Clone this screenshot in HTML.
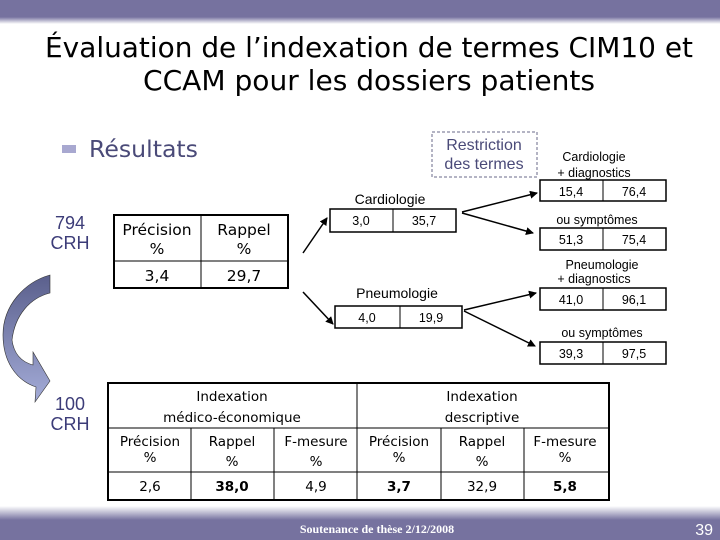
<!DOCTYPE html>
<html><head><meta charset="utf-8"><style>
body{margin:0;width:720px;height:540px;overflow:hidden;background:#fff}
svg{display:block}
.t{font-family:"DejaVu Sans","Liberation Sans",sans-serif}
.a{font-family:"Liberation Sans",sans-serif}
</style></head><body>
<svg width="720" height="540" viewBox="0 0 720 540">
<defs>
<linearGradient id="gt" x1="0" y1="0" x2="0" y2="1"><stop offset="0" stop-color="#76729f"/><stop offset="1" stop-color="#fff"/></linearGradient>
<linearGradient id="gb" x1="0" y1="0" x2="0" y2="1"><stop offset="0" stop-color="#fff"/><stop offset="1" stop-color="#76729f"/></linearGradient>
<linearGradient id="ga" x1="0" y1="0" x2="0" y2="1"><stop offset="0" stop-color="#5a5f8c"/><stop offset="1" stop-color="#a4acd8"/></linearGradient>
<marker id="ar" markerWidth="8" markerHeight="8" refX="7" refY="4" orient="auto" markerUnits="userSpaceOnUse"><path d="M0,0 L8,4 L0,8 z" fill="#000"/></marker>
</defs>
<rect x="0" y="0" width="720" height="17" fill="#76729f"/>
<rect x="0" y="17" width="720" height="7" fill="url(#gt)"/>
<rect x="0" y="506" width="720" height="14" fill="url(#gb)"/>
<rect x="0" y="520" width="720" height="20" fill="#76729f"/>
<g class="t" font-size="27.5" text-anchor="middle" fill="#000">
<text x="369" y="57" textLength="648" lengthAdjust="spacingAndGlyphs">Évaluation de l’indexation de termes CIM10 et</text>
<text x="369" y="90" textLength="452" lengthAdjust="spacingAndGlyphs">CCAM pour les dossiers patients</text></g>
<rect x="62" y="145" width="14" height="8" fill="#a8a8d0"/>
<text class="t" x="89" y="157" font-size="23" fill="#4a4a78" textLength="109" lengthAdjust="spacingAndGlyphs">Résultats</text>
<rect x="432" y="132" width="105" height="45" fill="none" stroke="#6a6a88" stroke-dasharray="3,2"/>
<g class="a" font-size="16" fill="#4a4a78" text-anchor="middle"><text x="484" y="150">Restriction</text><text x="484" y="169">des termes</text></g>
<g class="a" font-size="18" fill="#3c3c78" text-anchor="middle">
<text x="70" y="229">794</text><text x="70" y="249">CRH</text>
<text x="70" y="410">100</text><text x="70" y="430">CRH</text></g>
<path d="M50,275 L50,293 C30,298 15,315 12,340 C14,355 22,362 33,365 L33,352 L50,381 L35,402 L36,387 C15,380 3,360 3,335 C3,305 25,282 50,275 z" fill="url(#ga)" stroke="#333" stroke-width="0.6"/>
<g stroke="#000" stroke-width="2" fill="none">
<rect x="114" y="215" width="174" height="73"/><line x1="201" y1="215" x2="201" y2="288" stroke-width="1"/><line x1="114" y1="261" x2="288" y2="261" stroke-width="1"/></g>
<g class="t" font-size="15.5" text-anchor="middle"><text x="157" y="235">Précision</text><text x="157" y="254">%</text><text x="244" y="235">Rappel</text><text x="244" y="254">%</text><text x="157" y="281">3,4</text><text x="244" y="281">29,7</text></g>
<g stroke="#000" stroke-width="1.5" marker-end="url(#ar)">
<line x1="303" y1="253" x2="327" y2="218"/><line x1="303" y1="292" x2="333" y2="324"/>
<line x1="462" y1="212" x2="537" y2="193"/><line x1="462" y1="213" x2="533" y2="233"/>
<line x1="464" y1="310" x2="536" y2="293"/><line x1="464" y1="311" x2="535" y2="346"/></g>
<g class="a" font-size="14" text-anchor="middle">
<text x="390" y="204">Cardiologie</text><text x="397" y="298">Pneumologie</text></g>
<g class="a" font-size="12.5" text-anchor="middle">
<text x="594" y="161">Cardiologie</text><text x="594" y="177">+ diagnostics</text>
<text x="597" y="224">ou symptômes</text>
<text x="602" y="269">Pneumologie</text><text x="594" y="283">+ diagnostics</text>
<text x="602" y="337">ou symptômes</text></g>
<g stroke="#000" stroke-width="1.5" fill="none">
<rect x="330" y="209" width="126" height="23"/><line x1="393" y1="209" x2="393" y2="232" stroke-width="1"/>
<rect x="335" y="306" width="127" height="22"/><line x1="400" y1="306" x2="400" y2="328" stroke-width="1"/>
<rect x="540" y="180" width="126" height="21"/><line x1="603" y1="180" x2="603" y2="201" stroke-width="1"/>
<rect x="540" y="228" width="126" height="22"/><line x1="603" y1="228" x2="603" y2="250" stroke-width="1"/>
<rect x="540" y="288" width="126" height="22"/><line x1="603" y1="288" x2="603" y2="310" stroke-width="1"/>
<rect x="540" y="342" width="126" height="22"/><line x1="603" y1="342" x2="603" y2="364" stroke-width="1"/></g>
<g class="a" font-size="12.5" text-anchor="middle">
<text x="361" y="225">3,0</text><text x="424" y="225">35,7</text>
<text x="367" y="322">4,0</text><text x="431" y="322">19,9</text>
<text x="571" y="196">15,4</text><text x="634" y="196">76,4</text>
<text x="571" y="244">51,3</text><text x="634" y="244">75,4</text>
<text x="571" y="304">41,0</text><text x="634" y="304">96,1</text>
<text x="571" y="358">39,3</text><text x="634" y="358">97,5</text></g>
<g stroke="#000" fill="none">
<rect x="108" y="383" width="501" height="117" stroke-width="2"/>
<line x1="108" y1="428" x2="609" y2="428"/><line x1="108" y1="472" x2="609" y2="472"/>
<line x1="357" y1="383" x2="357" y2="500"/>
<line x1="191" y1="428" x2="191" y2="500"/><line x1="274" y1="428" x2="274" y2="500"/>
<line x1="441" y1="428" x2="441" y2="500"/><line x1="524" y1="428" x2="524" y2="500"/></g>
<g class="t" font-size="13.5" text-anchor="middle">
<text x="232" y="401">Indexation</text><text x="232" y="422">médico-économique</text>
<text x="482" y="401">Indexation</text><text x="482" y="422">descriptive</text>
<text x="150" y="446">Précision</text><text x="150" y="462">%</text>
<text x="232" y="446">Rappel</text><text x="232" y="466">%</text>
<text x="316" y="446">F-mesure</text><text x="316" y="466">%</text>
<text x="399" y="446">Précision</text><text x="399" y="462">%</text>
<text x="482" y="446">Rappel</text><text x="482" y="466">%</text>
<text x="565" y="446">F-mesure</text><text x="565" y="462">%</text>
<text x="150" y="491">2,6</text><text x="232" y="491" font-weight="bold">38,0</text><text x="316" y="491">4,9</text>
<text x="399" y="491" font-weight="bold">3,7</text><text x="482" y="491">32,9</text><text x="565" y="491" font-weight="bold">5,8</text></g>
<text x="377" y="533" font-family="Liberation Serif,serif" font-size="12" font-weight="bold" fill="#fff" text-anchor="middle">Soutenance de thèse  2/12/2008</text>
<text x="713" y="535" class="a" font-size="16" fill="#fff" text-anchor="end">39</text>
</svg>
</body></html>
